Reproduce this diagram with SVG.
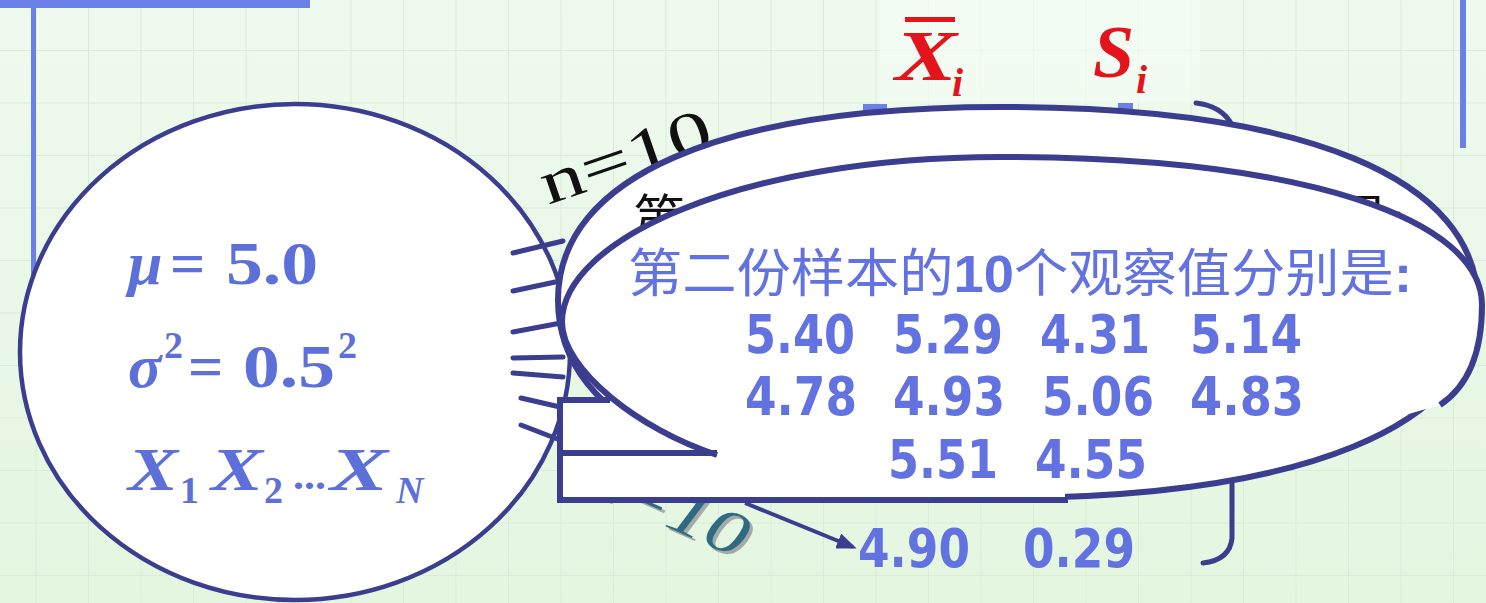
<svg xmlns="http://www.w3.org/2000/svg" width="1486" height="603" viewBox="0 0 1486 603">
<defs>
<linearGradient id="bg" x1="0" y1="0" x2="0" y2="1"><stop offset="0" stop-color="#eefaee"/><stop offset="1" stop-color="#e4f6e0"/></linearGradient>
<pattern id="grid" width="52.5" height="52.5" patternUnits="userSpaceOnUse" x="35.5" y="-2.5"><path d="M0,0.5 H52.5 M0.5,0 V52.5" stroke="#dbebd8" stroke-width="1" fill="none"/></pattern>
<marker id="arr" viewBox="0 0 10 8" refX="8" refY="4" markerWidth="5" markerHeight="4" orient="auto"><path d="M0,0 L10,4 L0,8 z" fill="#3b3d8f"/></marker>
</defs>
<style>
.ln{fill:none;stroke:#3b3d8f;stroke-width:5;stroke-linecap:round}
.edge{fill:none;stroke:#3b3d8f;stroke-width:6}
.wf{fill:#fff;stroke:none}
.bar{fill:#6b7fe8}
.m{font-family:"Liberation Serif",serif;font-weight:bold;fill:#5d6fd8}
.it{font-style:italic}
.num{font-family:"DejaVu Sans","Liberation Sans",sans-serif;font-weight:bold;font-size:54px;fill:#6272e0}
.cn{font-family:"Liberation Sans","Noto Sans CJK SC",sans-serif;font-size:52px}
.red{font-family:"Liberation Serif",serif;font-weight:bold;font-style:italic;fill:#e3141b}
</style>
<rect width="1486" height="603" fill="url(#bg)"/>
<rect width="1486" height="603" fill="url(#grid)"/>
<rect x="880" y="0" width="320" height="104" fill="#f4fcf3" opacity="0.7"/>
<g id="frame">
<rect class="bar" x="0" y="0" width="310" height="8"/>
<rect class="bar" x="31" y="0" width="5" height="290"/>
<rect class="bar" x="1460" y="0" width="6" height="148"/>
<rect class="bar" x="863" y="104" width="24" height="8"/>
<rect class="bar" x="1118" y="103" width="15" height="6"/>
</g>
<g id="population">
<ellipse cx="295" cy="352" rx="275" ry="248" fill="#fff" stroke="#3b3d8f" stroke-width="4.5"/>
<text class="m" y="284" font-size="62"><tspan class="it" x="128">μ</tspan><tspan x="170">=</tspan><tspan x="226" textLength="92" lengthAdjust="spacingAndGlyphs">5.0</tspan></text>
<text class="m" y="387" font-size="62"><tspan class="it" x="128">σ</tspan><tspan x="188">=</tspan><tspan x="243" textLength="92" lengthAdjust="spacingAndGlyphs">0.5</tspan></text>
<text class="m" font-size="38"><tspan x="164" y="358">2</tspan><tspan x="338" y="358">2</tspan></text>
<text class="m it" y="490" font-size="62"><tspan x="128" textLength="50" lengthAdjust="spacingAndGlyphs">X</tspan><tspan x="211" textLength="52" lengthAdjust="spacingAndGlyphs">X</tspan><tspan x="330" textLength="58" lengthAdjust="spacingAndGlyphs">X</tspan></text>
<text class="m" font-size="38" y="503"><tspan x="180">1</tspan><tspan x="264">2</tspan></text>
<text class="m" font-size="40" x="293" y="489" textLength="33" lengthAdjust="spacingAndGlyphs">...</text>
<text class="m it" font-size="38" x="396" y="503">N</text>
</g>
<g id="connectors">
<line class="ln" x1="513" y1="253" x2="563" y2="241"/>
<line class="ln" x1="513" y1="291" x2="560" y2="281"/>
<line class="ln" x1="513" y1="332" x2="561" y2="323"/>
<line class="ln" x1="513" y1="358" x2="563" y2="357"/>
<line class="ln" x1="513" y1="373" x2="563" y2="377"/>
<line class="ln" x1="521" y1="398" x2="560" y2="407"/>
<line class="ln" x1="521" y1="425" x2="560" y2="440"/>
<path class="ln" d="M1196,103 Q1222,106 1232,125 L1232,538 Q1230,560 1203,563"/>
</g>
<g id="label-n-top">
<text transform="translate(548,205) rotate(-19)" font-family="Liberation Serif,serif" font-size="62" fill="#111" textLength="178" lengthAdjust="spacingAndGlyphs">n=10</text>
</g>
<g id="label-n-bottom">
<text transform="translate(578,489) rotate(24)" font-family="Liberation Serif,serif" font-style="italic" font-size="62" fill="#a3aaa8" textLength="178" lengthAdjust="spacingAndGlyphs">n=10</text>
<text transform="translate(575,486) rotate(24)" font-family="Liberation Serif,serif" font-style="italic" font-size="62" fill="#2e6a82" textLength="178" lengthAdjust="spacingAndGlyphs">n=10</text>
</g>
<g id="sample-1">
<path fill="#fff" stroke="#3b3d8f" stroke-width="6" d="M558,300 C558,177 720,107 1000,107 C1306,107 1478,178 1478,305 C1478,425 1306,498 1000,498 C718,498 558,425 558,300 Z"/>
<text class="cn" x="633" y="238" font-size="50" fill="#111">第</text>
<text class="cn" x="1336" y="238" font-size="50" fill="#111">是<tspan font-weight="bold">:</tspan></text>
</g>
<g id="table">
<rect class="wf" x="560" y="400" width="505" height="100"/>
<path class="edge" d="M560,397 V503 M557,500 H1068 M557,400 H610"/>
</g>
<g id="sample-2">
<path class="wf" d="M717,455 C640,430 562,370 562,322 C562,240 740,157 1000,157 C1308,157 1482,220 1482,305 C1482,350 1470,385 1440,405 L1300,445 L900,458 Z"/>
<path class="edge" d="M717,455 C640,430 562,370 562,322 C562,240 740,157 1000,157 C1308,157 1482,220 1482,305 C1482,350 1470,385 1440,405"/>
<path class="edge" d="M560,453 H717"/>
<text class="cn" x="628" y="292" fill="#6272e0" textLength="784" lengthAdjust="spacingAndGlyphs">第二份样本的<tspan font-weight="bold">10</tspan>个观察值分别是<tspan font-weight="bold">:</tspan></text>
<g class="num">
<text x="745" y="353" textLength="110" lengthAdjust="spacingAndGlyphs">5.40</text>
<text x="893" y="353" textLength="110" lengthAdjust="spacingAndGlyphs">5.29</text>
<text x="1040" y="353" textLength="110" lengthAdjust="spacingAndGlyphs">4.31</text>
<text x="1190" y="353" textLength="112" lengthAdjust="spacingAndGlyphs">5.14</text>
<text x="745" y="415" textLength="112" lengthAdjust="spacingAndGlyphs">4.78</text>
<text x="893" y="415" textLength="112" lengthAdjust="spacingAndGlyphs">4.93</text>
<text x="1042" y="415" textLength="112" lengthAdjust="spacingAndGlyphs">5.06</text>
<text x="1190" y="415" textLength="114" lengthAdjust="spacingAndGlyphs">4.83</text>
<text x="888" y="478" textLength="110" lengthAdjust="spacingAndGlyphs">5.51</text>
<text x="1035" y="478" textLength="112" lengthAdjust="spacingAndGlyphs">4.55</text>
</g>
</g>
<g id="result">
<line x1="745" y1="503" x2="853" y2="547" stroke="#3b3d8f" stroke-width="4" marker-end="url(#arr)"/>
<g class="num">
<text x="858" y="567" textLength="112" lengthAdjust="spacingAndGlyphs">4.90</text>
<text x="1023" y="567" textLength="112" lengthAdjust="spacingAndGlyphs">0.29</text>
</g>
</g>
<g id="stat-labels">
<rect x="905" y="17" width="50" height="5" fill="#e3141b"/>
<text class="red" x="895" y="80" font-size="72" textLength="62" lengthAdjust="spacingAndGlyphs">X</text>
<text class="red" x="952" y="96" font-size="40">i</text>
<text class="red" x="1093" y="77" font-size="74">S</text>
<text class="red" x="1136" y="93" font-size="40">i</text>
</g>
</svg>
